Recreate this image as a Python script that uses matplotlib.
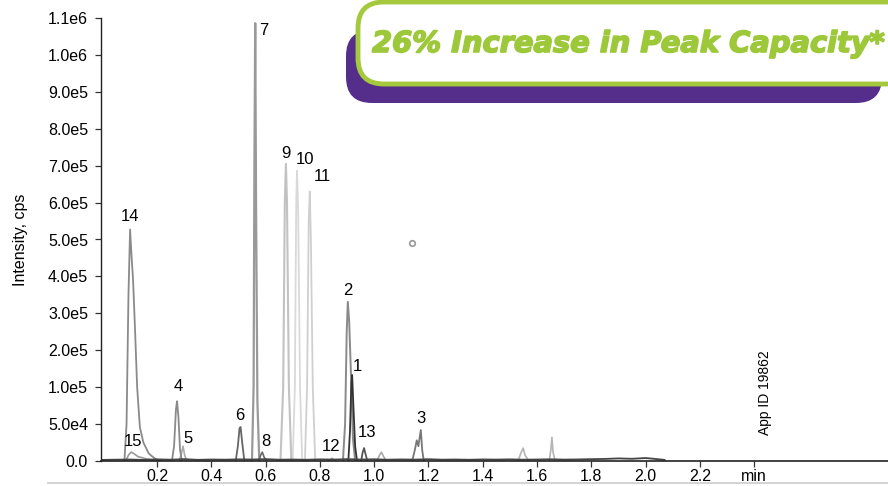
import numpy as np
import matplotlib
matplotlib.use("Agg")
import matplotlib.pyplot as plt
import matplotlib.patheffects as pe
from matplotlib.patches import FancyBboxPatch
from matplotlib.lines import Line2D

plt.rcParams['font.family'] = ['Liberation Sans', 'DejaVu Sans']

# ---------------- data ----------------
x_ticks = [0.2, 0.4, 0.6, 0.8, 1.0, 1.2, 1.4, 1.6, 1.8, 2.0, 2.2, 2.4]
x_ticklabels = ["0.2", "0.4", "0.6", "0.8", "1.0", "1.2", "1.4", "1.6", "1.8", "2.0", "2.2", "min"]
y_ticks = [0, 5e4, 1e5, 2e5, 3e5, 4e5, 5e5, 6e5, 7e5, 8e5, 9e5, 1e6, 1.1e6]
y_ticklabels = ["0.0", "5.0e4", "1.0e5", "2.0e5", "3.0e5", "4.0e5", "5.0e5", "6.0e5",
                "7.0e5", "8.0e5", "9.0e5", "1.0e6", "1.1e6"]

base_t = [0.0, 0.05, 0.1, 0.15, 0.2, 0.25, 0.3, 0.35, 0.4, 0.45, 0.5, 0.55, 0.6, 0.65, 0.7,
          0.75, 0.8, 0.85, 0.9, 0.95, 1.0, 1.05, 1.1, 1.15, 1.2, 1.25, 1.3, 1.35, 1.4, 1.45,
          1.5, 1.55, 1.6, 1.65, 1.7, 1.75, 1.8, 1.85, 1.9, 1.95, 2.0, 2.03, 2.07]
base_i = [1500, 1800, 2000, 1500, 2200, 1800, 2500, 1600, 2000, 1800, 2200, 2000, 2500, 1800,
          2000, 1700, 2200, 1900, 2500, 2000, 2300, 1800, 2100, 1900, 2400, 1800, 2000, 1700,
          2100, 1900, 2200, 1800, 2000, 2300, 1900, 2100, 2500, 2800, 3500, 3000, 4000, 3000, 1500]

p14_t = [0.080, 0.088, 0.095, 0.101, 0.106, 0.112, 0.119, 0.127, 0.137, 0.150, 0.170, 0.190, 0.210]
p14_i = [0, 5e4, 3.5e5, 5.27e5, 4.6e5, 3.9e5, 2.6e5, 1.0e5, 4.6e4, 2.5e4, 1.0e4, 4e3, 0]
p15_t = [0.085, 0.095, 0.105, 0.115, 0.130, 0.160, 0.190, 0.220]
p15_i = [0, 8e3, 1.2e4, 1.0e4, 6e3, 3e3, 1e3, 0]
p4_t = [0.255, 0.263, 0.270, 0.274, 0.279, 0.285, 0.292]
p4_i = [0, 2e4, 7e4, 8.1e4, 6e4, 1.5e4, 0]
p5_t = [0.282, 0.290, 0.296, 0.302, 0.310]
p5_i = [0, 1e4, 2e4, 8e3, 0]
p6_t = [0.490, 0.498, 0.504, 0.508, 0.514, 0.522]
p6_i = [0, 2e4, 4.4e4, 4.6e4, 2.5e4, 0]
p7_t = [0.550, 0.556, 0.559, 0.562, 0.565, 0.570, 0.577]
p7_i = [0, 1e5, 7e5, 1.086e6, 6e5, 8e4, 0]
p8_t = [0.575, 0.582, 0.588, 0.595, 0.605]
p8_i = [0, 8e3, 1.2e4, 5e3, 0]
p9_t = [0.655, 0.665, 0.671, 0.675, 0.679, 0.686, 0.695]
p9_i = [0, 1e5, 6e5, 7.05e5, 6e5, 1e5, 0]
p10_t = [0.700, 0.708, 0.713, 0.716, 0.720, 0.727, 0.735]
p10_i = [0, 1e5, 6e5, 6.86e5, 5.8e5, 1e5, 0]
p11_t = [0.745, 0.753, 0.759, 0.763, 0.767, 0.774, 0.783]
p11_i = [0, 1e5, 5.5e5, 6.3e5, 5e5, 1e5, 0]
p12_t = [0.830, 0.845, 0.860]
p12_i = [0, 4e3, 0]
p2_t = [0.885, 0.893, 0.899, 0.903, 0.908, 0.914, 0.922, 0.930]
p2_i = [0, 5e4, 2.5e5, 3.31e5, 2.8e5, 1.5e5, 3e4, 0]
p1_t = [0.905, 0.911, 0.916, 0.919, 0.923, 0.930, 0.937]
p1_i = [0, 4e4, 1.1e5, 1.33e5, 8e4, 2e4, 0]
p13_t = [0.952, 0.958, 0.963, 0.968, 0.975]
p13_i = [0, 1.2e4, 1.75e4, 1e4, 0]
px_t = [1.010, 1.020, 1.027, 1.035, 1.045]
px_i = [0, 8e3, 1.2e4, 6e3, 0]
p3_t = [1.140, 1.150, 1.157, 1.163, 1.167, 1.172, 1.177, 1.183]
p3_i = [0, 1.5e4, 2.8e4, 2e4, 3e4, 4.2e4, 1.5e4, 0]
pa_t = [1.530, 1.542, 1.549, 1.556, 1.570]
pa_i = [0, 1.2e4, 1.75e4, 8e3, 0]
pb_t = [1.645, 1.651, 1.655, 1.659, 1.667]
pb_i = [0, 1.5e4, 3.2e4, 1.2e4, 0]

artifact_t = [1.139]
artifact_i = [4.9e5]

peak_labels = ["7", "14", "9", "10", "11", "2", "1", "4", "6", "3", "13", "15", "5", "8", "12"]
label_t = [0.594, 0.100, 0.675, 0.745, 0.808, 0.904, 0.937, 0.277, 0.506, 1.173, 0.974, 0.112, 0.314, 0.602, 0.841]
label_i = [1.067e6, 5.61e5, 7.34e5, 7.18e5, 6.72e5, 3.63e5, 1.55e5, 1.03e5, 6.1e4, 5.8e4, 3.8e4, 2.6e4, 3.0e4, 2.7e4, 1.9e4]

callout_text = "26% Increase in Peak Capacity*"
app_id_text = "App ID 19862"
y_label = "Intensity, cps"

# ---------------- figure ----------------
W, H = 888, 486
fig = plt.figure(figsize=(W / 100, H / 100), dpi=100)
ax = fig.add_axes([100.5 / W, 1 - 461 / H, 1 - 100.5 / W, (461 - 18) / H])


def fwd(v):
    v = np.asarray(v, dtype=float)
    return np.where(v <= 1e5, v / 5e4, 2 + (v - 1e5) / 1e5)


def inv(p):
    p = np.asarray(p, dtype=float)
    return np.where(p <= 2, p * 5e4, 1e5 + (p - 2) * 1e5)


ax.set_yscale('function', functions=(fwd, inv))

traces = [
    (p10_t, p10_i, "#d9d9d9", 1.3),
    (p11_t, p11_i, "#cfcfcf", 1.3),
    (p9_t, p9_i, "#c2c2c2", 1.5),
    (pa_t, pa_i, "#b5b5b5", 1.2),
    (pb_t, pb_i, "#b5b5b5", 1.2),
    (px_t, px_i, "#aaaaaa", 1.2),
    (p12_t, p12_i, "#aaaaaa", 1.0),
    (p15_t, p15_i, "#999999", 1.2),
    (p14_t, p14_i, "#8a8a8a", 1.3),
    (p5_t, p5_i, "#aaaaaa", 1.2),
    (p4_t, p4_i, "#8a8a8a", 1.3),
    (p7_t, p7_i, "#999999", 1.6),
    (p2_t, p2_i, "#8a8a8a", 1.4),
    (p3_t, p3_i, "#777777", 1.3),
    (p6_t, p6_i, "#666666", 1.3),
    (p8_t, p8_i, "#666666", 1.2),
    (p13_t, p13_i, "#555555", 1.3),
    (p1_t, p1_i, "#333333", 1.3),
    (base_t, base_i, "#444444", 1.3),
]
for t, i, c, lw in traces:
    ax.plot(t, i, color=c, lw=lw, solid_joinstyle='round')

ax.plot(artifact_t, artifact_i, 'o', ms=4, mfc='white', mec='#999999', mew=1.2)

for lab, t, i in zip(peak_labels, label_t, label_i):
    ax.text(t, i, lab, fontsize=12, ha='center', va='center', color='black')

ax.set_xlim(-0.008, 2.893)
ax.set_ylim(0, 1.1e6)
ax.set_xticks(x_ticks)
ax.set_xticklabels(x_ticklabels, fontsize=11.5)
ax.set_yticks(y_ticks)
ax.set_yticklabels(y_ticklabels, fontsize=11.5)
ax.minorticks_off()
ax.tick_params(axis='both', direction='out', length=4, width=0.9, color='#333333', pad=2)
ax.tick_params(axis='y', pad=5)
for s in ['top', 'right']:
    ax.spines[s].set_visible(False)
ax.spines['left'].set_linewidth(1.0)
ax.spines['bottom'].set_linewidth(1.2)
ax.spines['left'].set_color('#222222')
ax.spines['bottom'].set_color('#222222')
ax.set_ylabel(y_label, fontsize=11.5, labelpad=14)

fig.text(765 / W, 1 - 393 / H, app_id_text, rotation=90, fontsize=10,
         ha='center', va='center')

# bottom gray rule
fig.add_artist(Line2D([48 / W, 1.0], [1 - 483 / H, 1 - 483 / H], color='#cccccc', lw=1.2))

# callout overlay (pixel coordinates)
ov = fig.add_axes([0, 0, 1, 1], zorder=10)
ov.set_xlim(0, W)
ov.set_ylim(H, 0)
ov.axis('off')
ov.patch.set_alpha(0)
purple = FancyBboxPatch((346 + 26, 30 + 26), 882 - 346 - 52, 103 - 30 - 52,
                        boxstyle="round,pad=26", fc="#552d8a", ec="none")
ov.add_patch(purple)
white = FancyBboxPatch((358 + 26, 2 + 26), 940 - 358 - 52, 84 - 2 - 52,
                       boxstyle="round,pad=26", fc="white", ec="#a5c93c", lw=3.5)
ov.add_patch(white)
ov.text(372, 44, callout_text, fontsize=20.8, fontweight='bold', fontstyle='oblique',
        family=['DejaVu Sans'], color="#9cc83a", ha='left', va='center',
        path_effects=[pe.withStroke(linewidth=1.2, foreground="#9cc83a")])

fig.savefig("out.png", dpi=100)
